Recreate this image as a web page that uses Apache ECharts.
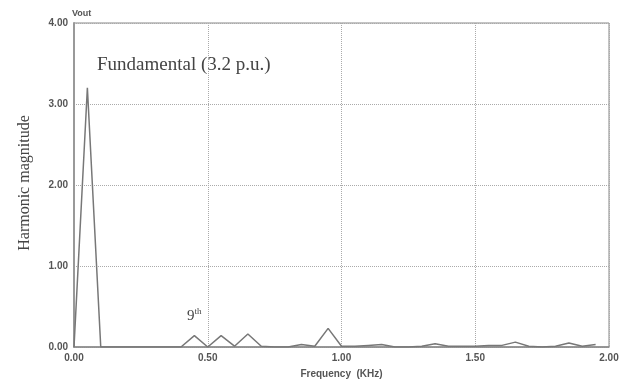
<!DOCTYPE html>
<html><head><meta charset="utf-8">
<script src="https://cdn.jsdelivr.net/npm/echarts@6/dist/echarts.min.js"></script>
<style>html,body{margin:0;padding:0;background:#fff}#c{width:630px;height:388px}</style>
</head><body><div id="c"></div>
<script>
const freqs = [0,0.05,0.10,0.15,0.20,0.25,0.30,0.35,0.40,0.45,0.50,0.55,0.60,0.65,0.70,0.75,0.80,0.85,0.90,0.95,1.00,1.05,1.10,1.15,1.20,1.25,1.30,1.35,1.40,1.45,1.50,1.55,1.60,1.65,1.70,1.75,1.80,1.85,1.90,1.95];
const magnitudes = [0,3.2,0,0,0,0,0,0,0,0.14,0,0.14,0.01,0.16,0.01,0,0,0.03,0.01,0.23,0.01,0.01,0.02,0.03,0,0,0.01,0.04,0.01,0.01,0.01,0.02,0.02,0.06,0.01,0,0.01,0.05,0.01,0.03];
const xTicks = [0,0.5,1.0,1.5,2.0];
const yTicks = [0,1,2,3,4];

const chart = echarts.init(document.getElementById('c'));
const tickFont = {color:'#555', fontFamily:'Liberation Sans, Arial, sans-serif', fontWeight:'bold', fontSize:10};
chart.setOption({
  backgroundColor:'#fff',
  animation:false,
  grid:{left:74, right:21, top:23, bottom:41, show:true, borderColor:'#888', borderWidth:1},
  xAxis:{type:'value', min:xTicks[0], max:xTicks[xTicks.length-1], interval:0.5,
    name:'Frequency  (KHz)', nameLocation:'middle', nameGap:22,
    nameTextStyle:{color:'#555', fontFamily:'Liberation Sans, Arial, sans-serif', fontWeight:'bold', fontSize:10},
    axisLine:{lineStyle:{color:'#888', width:1.5}}, axisTick:{show:false},
    axisLabel:Object.assign({formatter:v=>v.toFixed(2), margin:6}, tickFont),
    splitLine:{show:true, lineStyle:{color:'#aaa', type:'dotted', width:1}}},
  yAxis:{type:'value', min:yTicks[0], max:yTicks[yTicks.length-1], interval:1,
    name:'Vout', nameLocation:'end', nameGap:3,
    nameTextStyle:{color:'#555', fontFamily:'Liberation Sans, Arial, sans-serif', fontWeight:'bold', fontSize:9, align:'left', padding:[0,0,0,-2]},
    axisLine:{show:true, lineStyle:{color:'#999', width:2}}, axisTick:{show:false},
    axisLabel:Object.assign({formatter:v=>v.toFixed(2), margin:6}, tickFont),
    splitLine:{show:true, lineStyle:{color:'#aaa', type:'dotted', width:1}}},
  graphic:[
    {type:'text', x:25, y:183, rotation:Math.PI/2, style:{text:'Harmonic magnitude', fill:'#444', font:'16px "Liberation Serif", "Times New Roman", serif', align:'center', verticalAlign:'middle'}},
    {type:'text', x:97, y:65, style:{text:'Fundamental (3.2 p.u.)', fill:'#444', font:'19px "Liberation Serif", "Times New Roman", serif', verticalAlign:'middle'}},
    {type:'text', x:187, y:316, style:{text:'{a|9}{b|th}', fill:'#444', verticalAlign:'middle',
      rich:{a:{fontFamily:'Liberation Serif', fontSize:15, fill:'#444'}, b:{fontFamily:'Liberation Serif', fontSize:9, fill:'#444', verticalAlign:'top', padding:[0,0,8,0]}}}}
  ],
  series:[{type:'line', data:freqs.map((f,i)=>[f,magnitudes[i]]), symbol:'none',
    lineStyle:{color:'#777', width:1.5}}]
});
</script></body></html>
